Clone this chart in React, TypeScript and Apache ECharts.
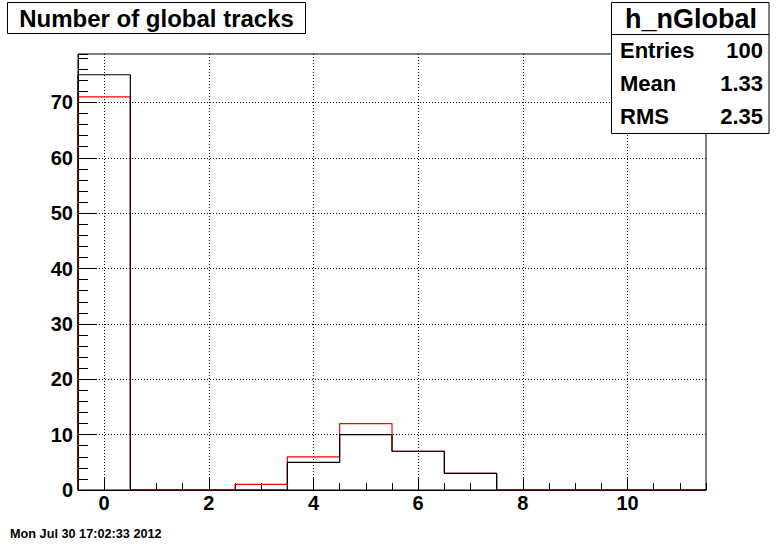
import React, { useEffect, useRef } from "react";
import * as echarts from "echarts";

const binCenters = [0, 1, 2, 3, 4, 5, 6, 7, 8, 9, 10, 11];
const blackCounts = [75, 0, 0, 0, 5, 10, 7, 3, 0, 0, 0, 0];
const redCounts = [71, 0, 0, 1, 6, 12, 7, 3, 0, 0, 0, 0];
const xLabelValues = [0, 2, 4, 6, 8, 10];
const yLabelValues = [0, 10, 20, 30, 40, 50, 60, 70];
const titleText = "Number of global tracks";
const statsName = "h_nGlobal";
const statsLabels = ["Entries", "Mean", "RMS"];
const statsValues = ["100", "1.33", "2.35"];
const dateText = "Mon Jul 30 17:02:33 2012";

const FONT = '"Liberation Sans", Arial, Helvetica, sans-serif';

function stepPoints(counts: number[]) {
  const pts: number[][] = [[binCenters[0] - 0.5, 0]];
  counts.forEach((v, i) => {
    pts.push([binCenters[i] - 0.5, v]);
    pts.push([binCenters[i] + 0.5, v]);
  });
  pts.push([binCenters[binCenters.length - 1] + 0.5, 0]);
  return pts;
}

function txt(x: number, y: number, text: string, size: number, align: string) {
  return {
    type: "text",
    x,
    y,
    z: 101,
    style: {
      text,
      font: `bold ${size}px ${FONT}`,
      fill: "#000",
      align,
      verticalAlign: "middle",
      textAlign: align,
      textVerticalAlign: "middle",
    },
  };
}

export default function App() {
  const ref = useRef<HTMLDivElement>(null);
  useEffect(() => {
    document.body.style.margin = "0";
    const chart = echarts.init(ref.current!, undefined, { renderer: "svg" });
    const labelStyle = { fontSize: 20, fontWeight: "bold", color: "#000", fontFamily: FONT };
    const dotted = { color: "#000", width: 1, type: [1, 2] };
    const statRows = [50.5, 83.5, 116.5];
    const graphics: any[] = [
      {
        type: "rect",
        z: 100,
        shape: { x: 7.5, y: 2.5, width: 298, height: 31 },
        style: { fill: "#fff", stroke: "#000", lineWidth: 1 },
      },
      txt(156.5, 18, titleText, 24, "center"),
      {
        type: "rect",
        z: 100,
        shape: { x: 611.5, y: 2.5, width: 157.5, height: 131 },
        style: { fill: "#fff", stroke: "#000", lineWidth: 1 },
      },
      {
        type: "line",
        z: 101,
        shape: { x1: 611.5, y1: 34.5, x2: 769, y2: 34.5 },
        style: { stroke: "#000", lineWidth: 1 },
      },
      txt(691, 18.5, statsName, 27, "center"),
      txt(10, 534, dateText, 12.7, "left"),
    ];
    statsLabels.forEach((l, i) => {
      graphics.push(txt(620, statRows[i], l, 22, "left"));
      graphics.push(txt(763, statRows[i], statsValues[i], 22, "right"));
    });

    chart.setOption({
      animation: false,
      backgroundColor: "#fff",
      grid: {
        left: 78,
        top: 54,
        width: 628,
        height: 436,
        show: true,
        borderColor: "#000",
        borderWidth: 1,
        backgroundColor: "#fff",
      },
      xAxis: [
        {
          type: "value",
          min: -0.5,
          max: 11.5,
          position: "bottom",
          axisLine: { show: true, onZero: false, lineStyle: { color: "#000", width: 1 } },
          axisTick: { show: true, inside: true, length: 13, customValues: xLabelValues, lineStyle: { color: "#000" } },
          axisLabel: { ...labelStyle, margin: 3, customValues: xLabelValues },
          splitLine: { show: true, lineStyle: dotted },
        },
        {
          type: "value",
          min: -0.5,
          max: 11.5,
          interval: 0.5,
          position: "bottom",
          axisLine: { show: false, onZero: false },
          axisTick: { show: true, inside: true, length: 7, lineStyle: { color: "#000" } },
          axisLabel: { show: false },
          splitLine: { show: false },
        },
      ],
      yAxis: [
        {
          type: "value",
          min: 0,
          max: 78.75,
          position: "left",
          axisLine: { show: true, onZero: false, lineStyle: { color: "#000", width: 1 } },
          axisTick: { show: true, inside: true, length: 19, customValues: yLabelValues, lineStyle: { color: "#000" } },
          axisLabel: { ...labelStyle, margin: 5, customValues: yLabelValues },
          splitLine: { show: true, lineStyle: dotted },
        },
        {
          type: "value",
          min: 0,
          max: 78.75,
          interval: 2,
          position: "left",
          axisLine: { show: false, onZero: false },
          axisTick: { show: true, inside: true, length: 10, lineStyle: { color: "#000" } },
          axisLabel: { show: false },
          splitLine: { show: false },
        },
      ],
      series: [
        {
          type: "line",
          data: stepPoints(redCounts),
          xAxisIndex: 0,
          yAxisIndex: 0,
          symbol: "none",
          lineStyle: { color: "#ff0000", width: 1.2 },
          z: 3,
        },
        {
          type: "line",
          data: stepPoints(blackCounts),
          xAxisIndex: 0,
          yAxisIndex: 0,
          symbol: "none",
          lineStyle: { color: "#000000", width: 1.2 },
          z: 4,
        },
      ],
      graphic: graphics,
    });
    return () => chart.dispose();
  }, []);
  return (
    <div
      ref={ref}
      style={{ position: "fixed", left: 0, top: 0, width: 784, height: 545, background: "#fff" }}
    />
  );
}
